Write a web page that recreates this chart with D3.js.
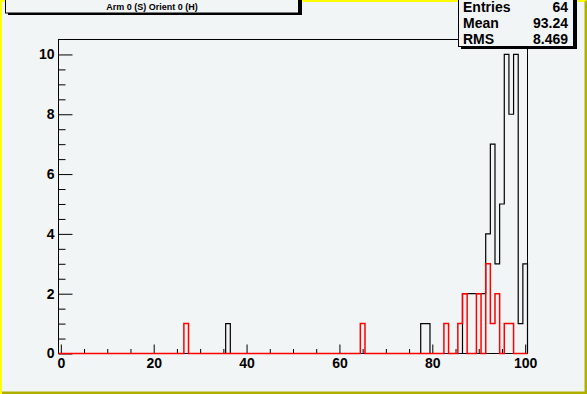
<!DOCTYPE html>
<html lang="en">
<head>
    <meta charset="UTF-8">
    <title>Arm 0 (S) Orient 0 (H)</title>
    <script src="https://cdn.jsdelivr.net/npm/d3@7"></script>
    <style>
        body { margin: 0; }
        text { font-family: "Liberation Sans", Arial, sans-serif; font-weight: bold; }
    </style>
</head>
<body>
    <div id="chart"></div>

    <script>
        // bin centres (integers, bins are 1 wide) and contents
        const blackBins   = [36, 78, 79, 87, 88, 89, 90, 91, 92, 93, 94, 95, 96, 97, 98, 99, 100];
        const blackCounts = [ 1,  1,  1,  2,  2,  2,  2,  2,  4,  7,  3,  5, 10,  8, 10,  1,   3];
        const redBins     = [27, 65, 83, 86, 87, 90, 92, 93, 94, 96, 97];
        const redCounts   = [ 1,  1,  1,  1,  2,  2,  3,  1,  2,  1,  1];

        const xMajor = [0, 20, 40, 60, 80, 100];
        const yMajor = [0, 2, 4, 6, 8, 10];
        const titleText = "Arm 0 (S) Orient 0 (H)";
        const statNames = ["Entries", "Mean", "RMS"];
        const statValues = ["64", "93.24", "8.469"];

        const width = 587;
        const height = 394;
        const bg = "#f2f5f6";

        const x = d3.scaleLinear().domain([-0.5, 100.5]).range([58.5, 527.5]);
        const y = d3.scaleLinear().domain([0, 10.5]).range([353.5, 39.5]);

        const svg = d3.select("#chart").append("svg")
            .attr("width", width)
            .attr("height", height);

        // canvas with bevelled border
        svg.append("rect").attr("width", width).attr("height", height).attr("fill", bg);
        svg.append("path").attr("fill", "#ffff00")
            .attr("d", `M0,0H${width}V2H2V${height}H0Z`);
        svg.append("path").attr("fill", "#afaf00")
            .attr("d", `M${width},0V${height}H2V391.5H584.5V2Z`);

        // frame
        svg.append("rect")
            .attr("x", x.range()[0]).attr("y", y.range()[1])
            .attr("width", x.range()[1] - x.range()[0])
            .attr("height", y.range()[0] - y.range()[1])
            .attr("fill", "none").attr("stroke", "#000");

        // axes, ticks pointing inside
        const xMinor = d3.range(0, 101, 5).filter(v => !xMajor.includes(v));
        svg.append("g")
            .attr("transform", `translate(0,${y.range()[0]})`)
            .call(d3.axisBottom(x).tickValues(xMinor).tickSize(-4.5).tickFormat(""))
            .call(g => g.select(".domain").remove());
        svg.append("g")
            .attr("transform", `translate(0,${y.range()[0]})`)
            .call(d3.axisBottom(x).tickValues(xMajor).tickSize(-9).tickPadding(5).tickFormat(d3.format("d")))
            .call(g => g.select(".domain").remove())
            .call(g => g.selectAll("text").attr("font-size", 14).attr("fill", "#000")
                .style("font-family", "'Liberation Sans', Arial, sans-serif").style("font-weight", "bold"));

        const yMinor = d3.range(0, 10.5, 0.5).filter(v => !yMajor.includes(v));
        svg.append("g")
            .attr("transform", `translate(${x.range()[0]},0)`)
            .call(d3.axisLeft(y).tickValues(yMinor).tickSize(-7).tickFormat(""))
            .call(g => g.select(".domain").remove());
        svg.append("g")
            .attr("transform", `translate(${x.range()[0]},0)`)
            .call(d3.axisLeft(y).tickValues(yMajor).tickSize(-14).tickPadding(4).tickFormat(d3.format("d")))
            .call(g => g.select(".domain").remove())
            .call(g => g.selectAll("text").attr("font-size", 14).attr("fill", "#000")
                .style("font-family", "'Liberation Sans', Arial, sans-serif").style("font-weight", "bold"));

        // histograms as step outlines
        function steps(bins, counts) {
            const full = new Array(101).fill(0);
            bins.forEach((b, i) => full[b] = counts[i]);
            const pts = [[-0.5, 0]];
            full.forEach((c, k) => { pts.push([k - 0.5, c]); pts.push([k + 0.5, c]); });
            pts.push([100.5, 0]);
            return d3.line().x(d => x(d[0])).y(d => y(d[1]))(pts);
        }

        svg.append("path")
            .attr("d", steps(blackBins, blackCounts))
            .attr("fill", "none").attr("stroke", "#000").attr("stroke-width", 1.2);
        svg.append("path")
            .attr("d", steps(redBins, redCounts))
            .attr("fill", "none").attr("stroke", "#ff0000").attr("stroke-width", 1.5);

        // title box
        svg.append("rect").attr("x", 8).attr("y", -2).attr("width", 294).attr("height", 17).attr("fill", "#000");
        svg.append("rect").attr("x", 5.5).attr("y", -2).attr("width", 293).attr("height", 15)
            .attr("fill", bg).attr("stroke", "#000");
        svg.append("text")
            .attr("x", 152).attr("y", 10)
            .attr("text-anchor", "middle").attr("font-size", 9)
            .text(titleText);

        // stats box
        svg.append("rect").attr("x", 461).attr("y", -2).attr("width", 116).attr("height", 51).attr("fill", "#000");
        svg.append("rect").attr("x", 458.5).attr("y", -2).attr("width", 115).attr("height", 48.5)
            .attr("fill", bg).attr("stroke", "#000");
        statNames.forEach((n, i) => {
            svg.append("text").attr("x", 463).attr("y", 12 + i * 16)
                .attr("font-size", 14).text(n);
            svg.append("text").attr("x", 568).attr("y", 12 + i * 16)
                .attr("font-size", 14).attr("text-anchor", "end").text(statValues[i]);
        });
    </script>
</body>
</html>
